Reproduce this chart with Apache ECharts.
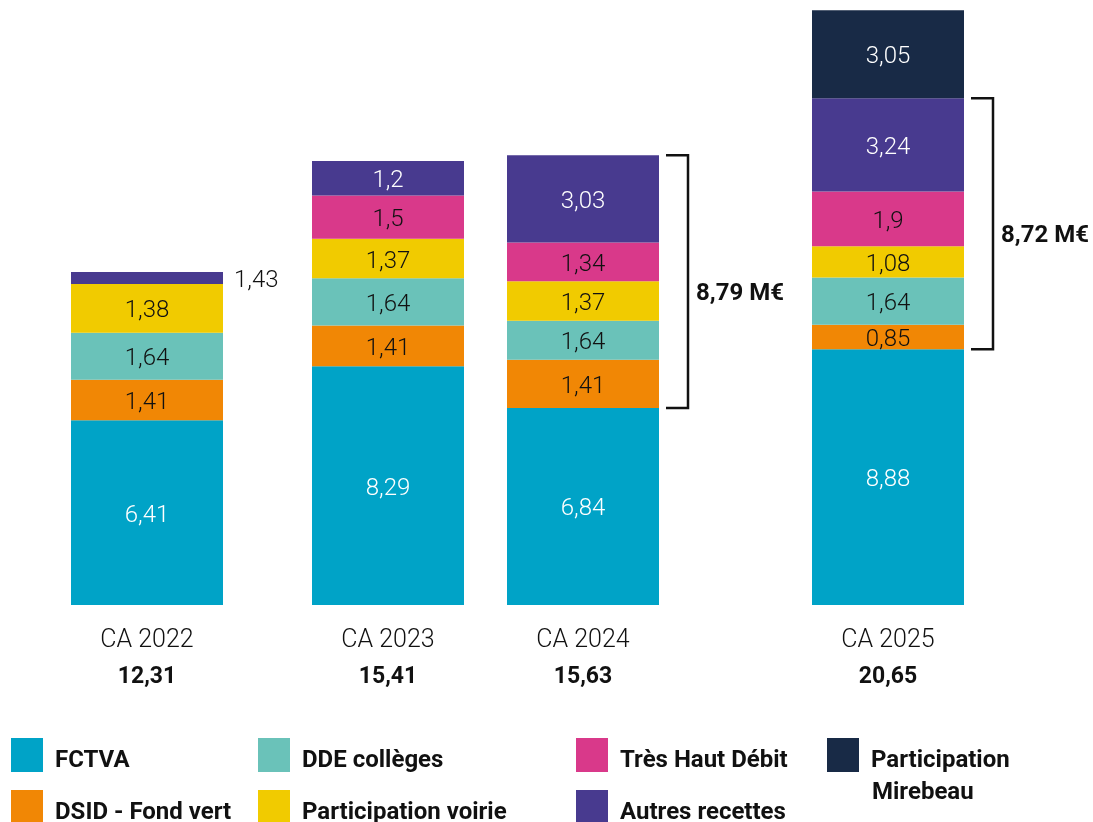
<!DOCTYPE html>
<html>
<head>
<meta charset="utf-8">
<script src="https://cdn.jsdelivr.net/npm/echarts@6/dist/echarts.min.js"></script>
<style>
  html, body { margin: 0; padding: 0; background: #fff; }
  #chart { width: 1093px; height: 822px; }
</style>
</head>
<body>
<div id="chart"></div>
<script>
// categories and totals printed under each bar
const categories = ['CA 2022', 'CA 2023', 'CA 2024', 'CA 2025']
const totals = [12.31, 15.41, 15.63, 20.65]

// figures printed on the segments (M€)
const fctva = [6.41, 8.29, 6.84, 8.88]
const dsid = [1.41, 1.41, 1.41, 0.85]
const dde = [1.64, 1.64, 1.64, 1.64]
const voirie = [1.38, 1.37, 1.37, 1.08]
const thd = [null, 1.5, 1.34, 1.9]
const autres = [1.43, 1.2, 3.03, 3.24]
const mirebeau = [null, null, null, 3.05]

// a few segments are not drawn to scale in the source: heights as drawn
const dsidDrawn = [1.41, 1.41, 1.67, 0.85]
const ddeDrawn = [1.63, 1.64, 1.36, 1.64]
const voirieDrawn = [1.69, 1.37, 1.37, 1.08]
const autresDrawn = [0.42, 1.2, 3.03, 3.24]

// bracket totals (M€) on the right of 2024 and 2025
const bracketTotals = [null, null, 8.79, 8.72]

const FONT = 'Roboto'
const fmt = v => String(v).replace('.', ',')

const seriesDefs = [
  { name: 'FCTVA', color: '#00a3c7', printed: fctva, drawn: fctva, text: '#fff' },
  { name: 'DSID - Fond vert', color: '#f18705', printed: dsid, drawn: dsidDrawn, text: '#111' },
  { name: 'DDE collèges', color: '#6ac2b9', printed: dde, drawn: ddeDrawn, text: '#111' },
  { name: 'Participation voirie', color: '#f1cb00', printed: voirie, drawn: voirieDrawn, text: '#111' },
  { name: 'Très Haut Débit', color: '#d9398a', printed: thd, drawn: thd, text: '#111' },
  { name: 'Autres recettes', color: '#483a8f', printed: autres, drawn: autresDrawn, text: '#fff' },
  { name: 'Participation Mirebeau', color: '#182a46', printed: mirebeau, drawn: mirebeau, text: '#fff' }
]

// layout: bars are not evenly spaced, one grid per bar
const barLeft = [71, 312, 507, 812]
const barW = 152

const chart = echarts.init(document.getElementById('chart'))

const grid = categories.map((c, i) => ({ left: barLeft[i], width: barW, top: 0, bottom: 217 }))

const xAxis = categories.map((c, i) => ({
  gridIndex: i,
  type: 'category',
  data: [c],
  axisLine: { show: false },
  axisTick: { show: false },
  axisLabel: {
    margin: 18,
    formatter: v => '{a|' + v + '}\n{b|' + fmt(totals[i]) + '}',
    rich: {
      a: { fontFamily: FONT, fontWeight: 300, fontSize: 25, color: '#111', lineHeight: 36 },
      b: { fontFamily: FONT, fontWeight: 'bold', fontSize: 23, color: '#111', lineHeight: 36 }
    }
  }
}))

const yAxis = categories.map((c, i) => ({
  gridIndex: i, type: 'value', min: 0, max: 21, show: false
}))

const series = []
categories.forEach((c, i) => {
  seriesDefs.forEach(s => {
    if (s.drawn[i] == null) return
    const outside = s.drawn[i] < 0.8
    series.push({
      type: 'bar',
      name: s.name,
      xAxisIndex: i,
      yAxisIndex: i,
      stack: 'ca' + i,
      barWidth: '100%',
      itemStyle: { color: s.color },
      label: {
        show: true,
        position: outside ? 'right' : 'inside',
        distance: 11,
        offset: [0, 3],
        formatter: () => fmt(s.printed[i]),
        fontFamily: FONT,
        fontWeight: 300,
        fontSize: 24,
        color: outside ? '#111' : s.text
      },
      data: [s.drawn[i]]
    })
  })
  if (bracketTotals[i] != null) {
    const low = fctva[i]
    const high = fctva[i] + dsidDrawn[i] + ddeDrawn[i] + voirieDrawn[i] + (thd[i] || 0) + autresDrawn[i]
    series.push({
      type: 'custom',
      xAxisIndex: i,
      yAxisIndex: i,
      silent: true,
      clip: false,
      data: [[0, low, high, bracketTotals[i]]],
      renderItem: (params, api) => {
        const p1 = api.coord([api.value(0), api.value(1)])
        const p2 = api.coord([api.value(0), api.value(2)])
        const right = p1[0] + api.size([1, 0])[0] / 2
        return {
          type: 'group',
          children: [
            {
              type: 'polyline',
              shape: { points: [[right + 7, p2[1]], [right + 29, p2[1]], [right + 29, p1[1]], [right + 7, p1[1]]] },
              style: { stroke: '#111', lineWidth: 2.5, fill: null }
            },
            {
              type: 'text',
              style: {
                x: right + 37,
                y: (p1[1] + p2[1]) / 2 + 12,
                text: fmt(api.value(3)) + ' M€',
                font: 'bold 24px ' + FONT,
                fill: '#111',
                align: 'left',
                verticalAlign: 'middle'
              }
            }
          ]
        }
      }
    })
  }
})

// legend, one block per item to match the loose layout
const legendPos = [
  [11, 737], [11, 789], [258, 737], [258, 789], [576, 737], [576, 789], [827, 737]
]
const legend = seriesDefs.map((s, k) => ({
  data: [s.name],
  left: legendPos[k][0],
  top: legendPos[k][1],
  padding: 0,
  itemWidth: 32,
  itemHeight: 34,
  selectedMode: false,
  icon: 'rect',
  formatter: n => '{t|' + (n === 'Participation Mirebeau' ? 'Participation' : n) + '}',
  textStyle: {
    rich: {
      t: { fontFamily: FONT, fontWeight: 'bold', fontSize: 24, color: '#111', lineHeight: 24, padding: [12, 0, 0, 7] }
    }
  }
}))

chart.setOption({
  animation: false,
  grid,
  xAxis,
  yAxis,
  legend,
  series,
  graphic: [{
    type: 'text',
    left: 872,
    top: 781,
    style: { text: 'Mirebeau', font: 'bold 24px ' + FONT, fill: '#111' }
  }]
})
</script>
</body>
</html>
